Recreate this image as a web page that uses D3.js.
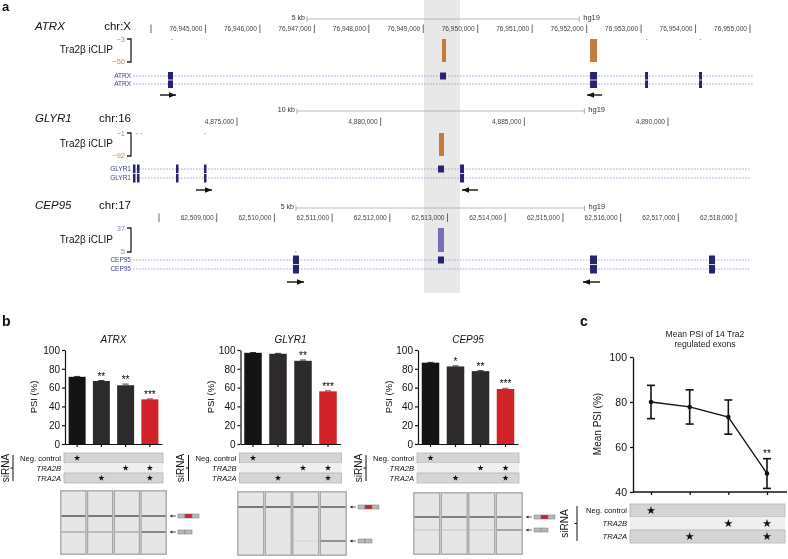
<!DOCTYPE html>
<html><head><meta charset="utf-8">
<script src="https://cdn.jsdelivr.net/npm/d3@7"></script>
<style>body{margin:0;background:#fff}svg{display:block;will-change:transform}</style>
</head><body><svg id="c" width="788" height="559"></svg>
<script>
// ================= DATA =================
// ---- panel a : genome browser tracks ----
const geneNames = ["ATRX", "GLYR1", "CEP95"];
const chromosomes = ["chr:X", "chr:16", "chr:17"];
const viewDomain = [[76944000, 76955000], [4875000, 4890000], [62508000, 62518000]];
const tickPositions = [
  [76944000, 76945000, 76946000, 76947000, 76948000, 76949000, 76950000, 76951000, 76952000, 76953000, 76954000, 76955000],
  [4875000, 4880000, 4885000, 4890000],
  [62508000, 62509000, 62510000, 62511000, 62512000, 62513000, 62514000, 62515000, 62516000, 62517000, 62518000]
];
const tickLabels = [
  ["", "76,945,000", "76,946,000", "76,947,000", "76,948,000", "76,949,000", "76,950,000", "76,951,000", "76,952,000", "76,953,000", "76,954,000", "76,955,000"],
  ["4,875,000", "4,880,000", "4,885,000", "4,890,000"],
  ["", "62,509,000", "62,510,000", "62,511,000", "62,512,000", "62,513,000", "62,514,000", "62,515,000", "62,516,000", "62,517,000", "62,518,000"]
];
const scaleBarKb = [5, 10, 5];
const scaleBarStart = [76946865, 4877088, 62510374];
const assembly = "hg19";
const windowExtent = [[76943670, 76955056], [4871380, 4892890], [62507549, 62518243]];
const iclipLabel = "Tra2β iCLIP";
const iclipRange = [[-3, -50], [-1, -92], [37, 5]];          // [top value, bottom value]
const iclipBase = [-3, -1, 5];
const iclipRangeLabels = [["−3", "−50"], ["−1", "−92"], ["37", "5"]];
const iclipPeaks = [
  [[76949344, 76949418, -50], [76952063, 76952191, -50], [76944380, 76944400, -5], [76953090, 76953110, -5], [76954080, 76954100, -5]],
  [[4882031, 4882205, -92], [4871500, 4871540, -3], [4871650, 4871690, -3], [4873860, 4873890, -3]],
  [[62512835, 62512939, 37], [62510360, 62510380, 6]]
];
// exons: [start, end, rows] rows: 2 = both transcripts, 1 = first transcript only
const exons = [
  [[76944312, 76944404, 2], [76949308, 76949418, 1], [76952063, 76952191, 2], [76953073, 76953128, 2], [76954064, 76954119, 2]],
  [[4871380, 4871450, 2], [4871520, 4871590, 2], [4872877, 4872912, 2], [4873851, 4873886, 2], [4881996, 4882205, 1], [4882762, 4882901, 2]],
  [[62510322, 62510426, 2], [62512835, 62512939, 1], [62515470, 62515591, 2], [62517532, 62517636, 2]]
];
// primers: [start, end, direction]
const primers = [
  [[76944165, 76944459, 1], [76952008, 76952283, -1]],
  [[4873573, 4874130, 1], [4882831, 4883388, -1]],
  [[62510218, 62510513, 1], [62515348, 62515643, -1]]
];
const highlightRegion = [76949014, 76949675]; // ATRX coordinates

// ---- panel b : PSI bar charts ----
const barGenes = ["ATRX", "GLYR1", "CEP95"];
const conditions = ["Neg. control", "TRA2A", "TRA2B", "TRA2A+TRA2B"];
const psiATRX = [71.5, 67, 62.5, 47.5];
const psiGLYR1 = [97, 96, 88.5, 56];
const psiCEP95 = [86.5, 82.5, 77.5, 58.5];
const errATRX = [0.4, 0.5, 1.2, 0.5];
const errGLYR1 = [0.3, 0.4, 0.8, 0.6];
const errCEP95 = [0.4, 0.6, 0.5, 0.8];
const starsATRX = ["", "**", "**", "***"];
const starsGLYR1 = ["", "", "**", "***"];
const starsCEP95 = ["", "*", "**", "***"];
const psiTicks = [0, 20, 40, 60, 80, 100];
const barColors = ["#141414", "#2c2a2b", "#2c2a2b", "#d12229"];

// siRNA design matrix
const sirnaRows = ["Neg. control", "TRA2B", "TRA2A"];
const sirnaNeg = [1, 0, 0, 0];
const sirnaTRA2B = [0, 0, 1, 1];
const sirnaTRA2A = [0, 1, 0, 1];

// gel band intensities (upper = exon included, lower = exon skipped)
const gelUpperATRX = [0.8, 0.8, 0.8, 0.75];
const gelLowerATRX = [0.35, 0.35, 0.35, 0.8];
const gelUpperGLYR1 = [0.8, 0.8, 0.8, 0.75];
const gelLowerGLYR1 = [0, 0, 0.08, 0.7];
const gelUpperCEP95 = [0.75, 0.75, 0.75, 0.7];
const gelLowerCEP95 = [0.15, 0.15, 0.15, 0.55];

// ---- panel c : mean PSI ----
const meanTitle = ["Mean PSI of 14 Tra2", "regulated exons"];
const meanPSI = [80, 77.8, 73.3, 48.2];
const meanErr = [7.4, 7.6, 7.6, 6.6];
const meanStars = ["", "", "", "**"];
const meanTicks = [40, 60, 80, 100];

// ================= DRAWING =================
const FONT = '"Liberation Sans", Arial, Helvetica, sans-serif';
const svg = d3.select("#c").style("font-family", FONT);

function txt(g, x, y, s, o = {}) {
  return g.append("text").attr("x", x).attr("y", y).text(s)
    .attr("font-size", o.size || 10)
    .style("fill", o.fill || "#111")
    .attr("text-anchor", o.anchor || "start")
    .attr("dominant-baseline", o.base || "middle")
    .attr("font-style", o.italic ? "italic" : "normal")
    .attr("font-weight", o.bold ? "bold" : "normal");
}

// ---------- panel a ----------
const trackLayout = [
  {scaleY: 19, tickY: 29, nameY: 27, clipTop: 39, clipBot: 62, row1: 76, row2: 84, arrowY: 95, x0: 151, x1: 750},
  {scaleY: 111, tickY: 122, nameY: 119, clipTop: 133, clipBot: 156, row1: 169, row2: 178, arrowY: 190, x0: 237, x1: 668},
  {scaleY: 208, tickY: 218, nameY: 206, clipTop: 228, clipBot: 252, row1: 260, row2: 269, arrowY: 282, x0: 159, x1: 736}
];
const iclipColors = ["#c47b3c", "#c47b3c", "#7a6db8"];
const iclipLabelColors = ["#c8894e", "#c8894e", "#8c88b8"];
const exonColor = "#27246e";

const ga = svg.append("g");
txt(ga, 2, 8, "a", {size: 13, bold: true});
const xATRX = d3.scaleLinear().domain(viewDomain[0]).range([trackLayout[0].x0, trackLayout[0].x1]);
ga.append("rect").attr("x", xATRX(highlightRegion[0])).attr("y", 0)
  .attr("width", xATRX(highlightRegion[1]) - xATRX(highlightRegion[0])).attr("height", 293)
  .attr("fill", "#e8e8e8");

trackLayout.forEach((L, i) => {
  const g = ga.append("g");
  const x = d3.scaleLinear().domain(viewDomain[i]).range([L.x0, L.x1]);
  txt(g, 35, L.nameY, geneNames[i], {size: 11.5, italic: true});
  txt(g, 131, L.nameY, chromosomes[i], {size: 11.5, anchor: "end"});
  // scale bar
  const s0 = scaleBarStart[i], s1 = s0 + scaleBarKb[i] * 1000;
  g.append("line").attr("x1", x(s0)).attr("x2", x(s1)).attr("y1", L.scaleY).attr("y2", L.scaleY)
    .attr("stroke", "#aaa").attr("stroke-width", 0.8);
  [s0, s1].forEach(v => g.append("line").attr("x1", x(v)).attr("x2", x(v))
    .attr("y1", L.scaleY - 2.5).attr("y2", L.scaleY + 3).attr("stroke", "#999").attr("stroke-width", 0.8));
  txt(g, x(s0) - 2, L.scaleY - 1, scaleBarKb[i] + " kb", {size: 7, anchor: "end", fill: "#333"});
  txt(g, x(s1) + 4, L.scaleY - 1, assembly, {size: 7.5, fill: "#333"});
  // ticks
  tickPositions[i].forEach((t, j) => {
    g.append("line").attr("x1", x(t)).attr("x2", x(t)).attr("y1", L.tickY - 4.5).attr("y2", L.tickY + 4)
      .attr("stroke", "#444").attr("stroke-width", 0.8);
    if (tickLabels[i][j]) txt(g, x(t) - 3, L.tickY, tickLabels[i][j], {size: 6.6, anchor: "end", fill: "#444"});
  });
  // iCLIP track
  const cy = d3.scaleLinear().domain(iclipRange[i]).range([L.clipTop, L.clipBot]);
  txt(g, 113, (L.clipTop + L.clipBot) / 2, iclipLabel, {size: 10, anchor: "end"});
  g.append("path").attr("d", `M127,${L.clipTop}H131V${L.clipBot}H127`).attr("fill", "none")
    .attr("stroke", "#222").attr("stroke-width", 1.3);
  txt(g, 125, L.clipTop + 1, iclipRangeLabels[i][0], {size: 7.5, anchor: "end", fill: iclipLabelColors[i]});
  txt(g, 125, L.clipBot, iclipRangeLabels[i][1], {size: 7.5, anchor: "end", fill: iclipLabelColors[i]});
  iclipPeaks[i].forEach(p => {
    const yb = cy(iclipBase[i]), yv = cy(p[2]);
    const big = Math.abs(p[2] - iclipBase[i]) > 5;
    g.append("rect").attr("x", x(p[0])).attr("width", Math.max(1.2, x(p[1]) - x(p[0])))
      .attr("y", Math.min(yb, yv)).attr("height", Math.max(1.2, Math.abs(yv - yb)))
      .attr("fill", big ? iclipColors[i] : "#9a9a9a");
  });
  // gene models
  [L.row1, L.row2].forEach(ry => {
    g.append("line").attr("x1", x(windowExtent[i][0])).attr("x2", x(windowExtent[i][1]))
      .attr("y1", ry).attr("y2", ry).attr("stroke", "#9d9dd8").attr("stroke-width", 0.9)
      .attr("stroke-dasharray", "1.6,1.4");
    txt(g, 131, ry, geneNames[i], {size: 6.5, anchor: "end", fill: "#3d3d96"});
  });
  const hh = (L.row2 - L.row1) / 2;
  exons[i].forEach(e => {
    const w = Math.max(2.5, x(e[1]) - x(e[0]));
    if (e[2] === 2) {
      g.append("rect").attr("x", x(e[0])).attr("width", w).attr("y", L.row1 - hh).attr("height", hh * 2 - 0.4).attr("fill", exonColor);
      g.append("rect").attr("x", x(e[0])).attr("width", w).attr("y", L.row2 - hh + 0.4).attr("height", hh * 2 - 0.4).attr("fill", exonColor);
    } else {
      g.append("rect").attr("x", x(e[0])).attr("width", w).attr("y", L.row1 - 3.5).attr("height", 7).attr("fill", exonColor);
    }
  });
  // primers
  primers[i].forEach(p => {
    const a = x(p[0]), b = x(p[1]), y = L.arrowY;
    g.append("line").attr("x1", a).attr("x2", b).attr("y1", y).attr("y2", y).attr("stroke", "#111").attr("stroke-width", 1.4);
    const tip = p[2] > 0 ? b : a, d = p[2] > 0 ? -7 : 7;
    g.append("path").attr("d", `M${tip},${y}L${tip + d},${y - 2.8}L${tip + d},${y + 2.8}Z`).attr("fill", "#111");
  });
});

// ---------- panel b ----------
const gb = svg.append("g");
txt(gb, 2, 322, "b", {size: 14, bold: true});
const barLayout = [
  {range: [65, 162], psiX: 34, gel: {x: 60, y: 490, w: 107, h: 65, up: 516, low: 532}},
  {range: [240.5, 340.5], psiX: 211, gel: {x: 237, y: 491, w: 110, h: 65, up: 507, low: 541}},
  {range: [418, 518], psiX: 389, gel: {x: 413, y: 492, w: 110, h: 63, up: 517, low: 530}}
];
const barValues = [psiATRX, psiGLYR1, psiCEP95];
const barErr = [errATRX, errGLYR1, errCEP95];
const barStars = [starsATRX, starsGLYR1, starsCEP95];
const gelUpper = [gelUpperATRX, gelUpperGLYR1, gelUpperCEP95];
const gelLower = [gelLowerATRX, gelLowerGLYR1, gelLowerCEP95];
const sirnaMatrix = [sirnaNeg, sirnaTRA2B, sirnaTRA2A];
const yb = d3.scaleLinear().domain([0, 100]).range([444, 350]);

function sirnaTable(g, x0, x1, top, rowH, colX, labelSize, textOff, lineOff) {
  sirnaRows.forEach((r, k) => {
    const y = top + k * rowH;
    g.append("rect").attr("x", x0).attr("y", y).attr("width", x1 - x0).attr("height", rowH)
      .attr("fill", k === 1 ? "#efefef" : "#d5d5d5").attr("stroke", k === 1 ? "none" : "#b3b3b3").attr("stroke-width", 0.8);
    txt(g, x0 - 3, y + rowH / 2 + 0.5, r, {size: labelSize, anchor: "end", italic: k > 0});
    sirnaMatrix[k].forEach((v, j) => {
      if (v) g.append("path").attr("transform", `translate(${colX(j)},${y + rowH / 2})`)
        .attr("d", d3.symbol(d3.symbolStar, rowH > 11 ? 22 : 12)()).attr("fill", "#111");
    });
  });
  const cx = x0 - textOff, lx = x0 - lineOff;
  const mid = top + rowH * 1.5;
  g.append("text").attr("transform", `translate(${cx},${mid}) rotate(-90)`).text("siRNA")
    .attr("font-size", 10).attr("text-anchor", "middle").attr("dominant-baseline", "middle").style("fill", "#111");
  g.append("line").attr("x1", lx).attr("x2", lx).attr("y1", top + 2).attr("y2", top + rowH * 3 - 2).attr("stroke", "#111").attr("stroke-width", 1);
  g.append("line").attr("x1", lx - 2.5).attr("x2", lx).attr("y1", mid).attr("y2", mid).attr("stroke", "#111").attr("stroke-width", 1);
}

function miniGene(g, x, y, included) {
  g.append("line").attr("x1", x).attr("x2", x + 6).attr("y1", y).attr("y2", y).attr("stroke", "#333").attr("stroke-width", 0.8);
  g.append("path").attr("d", `M${x},${y}l2.5,-1.5v3z`).attr("fill", "#333");
  const parts = included ? ["#b9b9b9", "#c1272d", "#b9b9b9"] : ["#b9b9b9", "#b9b9b9"];
  parts.forEach((c, k) => g.append("rect").attr("x", x + 8 + k * 7).attr("y", y - 2).attr("width", 7).attr("height", 4)
    .attr("fill", c).attr("stroke", "#777").attr("stroke-width", 0.5));
}

barGenes.forEach((gene, i) => {
  const L = barLayout[i];
  const g = gb.append("g");
  const x = d3.scaleBand().domain(conditions).range(L.range).paddingInner(0.3).paddingOuter(0.15);
  txt(g, (L.range[0] + L.range[1]) / 2, 340, gene, {size: 10, italic: true, anchor: "middle"});
  // bars
  conditions.forEach((c, j) => {
    const v = barValues[i][j];
    g.append("rect").attr("x", x(c)).attr("width", x.bandwidth()).attr("y", yb(v)).attr("height", yb(0) - yb(v)).attr("fill", barColors[j]);
    const e = barErr[i][j], cxm = x(c) + x.bandwidth() / 2;
    g.append("line").attr("x1", cxm - 3).attr("x2", cxm + 3).attr("y1", yb(v + e)).attr("y2", yb(v + e)).attr("stroke", j === 3 ? "#7a1015" : "#000").attr("stroke-width", 0.8);
    if (barStars[i][j]) txt(g, cxm, yb(v + e) - 1, barStars[i][j], {size: 10, anchor: "middle", base: "auto", fill: "#000"});
  });
  const ya = g.append("g").attr("transform", `translate(${L.range[0]},0)`)
    .call(d3.axisLeft(yb).tickValues(psiTicks).tickSize(3).tickSizeOuter(0).tickPadding(2));
  const xa = g.append("g").attr("transform", `translate(0,${yb(0)})`)
    .call(d3.axisBottom(x).tickSize(3).tickSizeOuter(0).tickFormat(""));
  [ya, xa].forEach(a => {
    a.selectAll("path,line").attr("stroke", "#111").attr("stroke-width", 1.2);
    a.selectAll("text").attr("font-size", 10).attr("font-family", FONT).style("fill", "#111");
  });
  g.append("text").attr("transform", `translate(${L.psiX},397) rotate(-90)`).text("PSI (%)")
    .attr("font-size", 9.5).attr("text-anchor", "middle").attr("dominant-baseline", "middle").style("fill", "#111");
  // siRNA table
  sirnaTable(g, L.range[0] - 1, L.range[1] + 1, 453, 10, j => x(conditions[j]) + x.bandwidth() / 2, 7.6, 58, 51);
  // gel
  const G = L.gel, lw = G.w / 4;
  conditions.forEach((c, j) => {
    const lx = G.x + j * lw;
    g.append("rect").attr("x", lx + 0.8).attr("y", G.y + 0.8).attr("width", lw - 1.6).attr("height", G.h - 1.6)
      .attr("fill", "#e6e6e6").attr("stroke", "#a9a9a9").attr("stroke-width", 1.4);
    g.append("line").attr("x1", lx + 1.5).attr("x2", lx + lw - 1.5).attr("y1", G.up).attr("y2", G.up)
      .attr("stroke", "#3a3a3a").attr("stroke-opacity", gelUpper[i][j]).attr("stroke-width", 1.6);
    if (gelLower[i][j] > 0) g.append("line").attr("x1", lx + 1.5).attr("x2", lx + lw - 1.5).attr("y1", G.low).attr("y2", G.low)
      .attr("stroke", "#3a3a3a").attr("stroke-opacity", gelLower[i][j]).attr("stroke-width", 1.4);
  });
  miniGene(g, G.x + G.w + 3, G.up, true);
  miniGene(g, G.x + G.w + 3, G.low, false);
});

// ---------- panel c ----------
const gc = svg.append("g");
txt(gc, 580, 326, "c", {size: 14, bold: true, base: "auto"});
txt(gc, 705, 335, meanTitle[0], {size: 8.6, anchor: "middle", fill: "#222"});
txt(gc, 705, 344.5, meanTitle[1], {size: 8.6, anchor: "middle", fill: "#222"});
const yc = d3.scaleLinear().domain([40, 100]).range([492, 357]);
const xc = d3.scalePoint().domain(conditions).range([651, 767]);
const yca = gc.append("g").attr("transform", "translate(633,0)")
  .call(d3.axisLeft(yc).tickValues(meanTicks).tickSize(3).tickSizeOuter(0).tickPadding(3));
const xca = gc.append("g").attr("transform", `translate(0,${yc(40)})`)
  .call(d3.axisBottom(xc).tickSize(3).tickSizeOuter(0).tickFormat(""));
xca.select("path.domain").attr("d", "M633,0H787");
[yca, xca].forEach(a => {
  a.selectAll("path,line").attr("stroke", "#111").attr("stroke-width", 1.3);
  a.selectAll("text").attr("font-size", 10.5).attr("font-family", FONT).style("fill", "#111");
});
gc.append("text").attr("transform", "translate(598,424) rotate(-90)").text("Mean PSI (%)")
  .attr("font-size", 10).attr("text-anchor", "middle").attr("dominant-baseline", "middle").style("fill", "#111");
gc.append("path").datum(meanPSI).attr("fill", "none").attr("stroke", "#111").attr("stroke-width", 1.3)
  .attr("d", d3.line().x((d, j) => xc(conditions[j])).y(d => yc(d)));
meanPSI.forEach((v, j) => {
  const cx = xc(conditions[j]), e = meanErr[j];
  gc.append("line").attr("x1", cx).attr("x2", cx).attr("y1", yc(v - e)).attr("y2", yc(v + e)).attr("stroke", "#111").attr("stroke-width", 1.6);
  [v - e, v + e].forEach(w => gc.append("line").attr("x1", cx - 4).attr("x2", cx + 4).attr("y1", yc(w)).attr("y2", yc(w)).attr("stroke", "#111").attr("stroke-width", 1.6));
  gc.append("circle").attr("cx", cx).attr("cy", yc(v)).attr("r", 2.3).attr("fill", "#111");
  if (meanStars[j]) txt(gc, cx, yc(v + e) - 2, meanStars[j], {size: 10, anchor: "middle", base: "auto", fill: "#000"});
});
sirnaTable(gc, 630, 785, 504, 13, j => xc(conditions[j]), 7.6, 65, 53);
</script></body></html>
